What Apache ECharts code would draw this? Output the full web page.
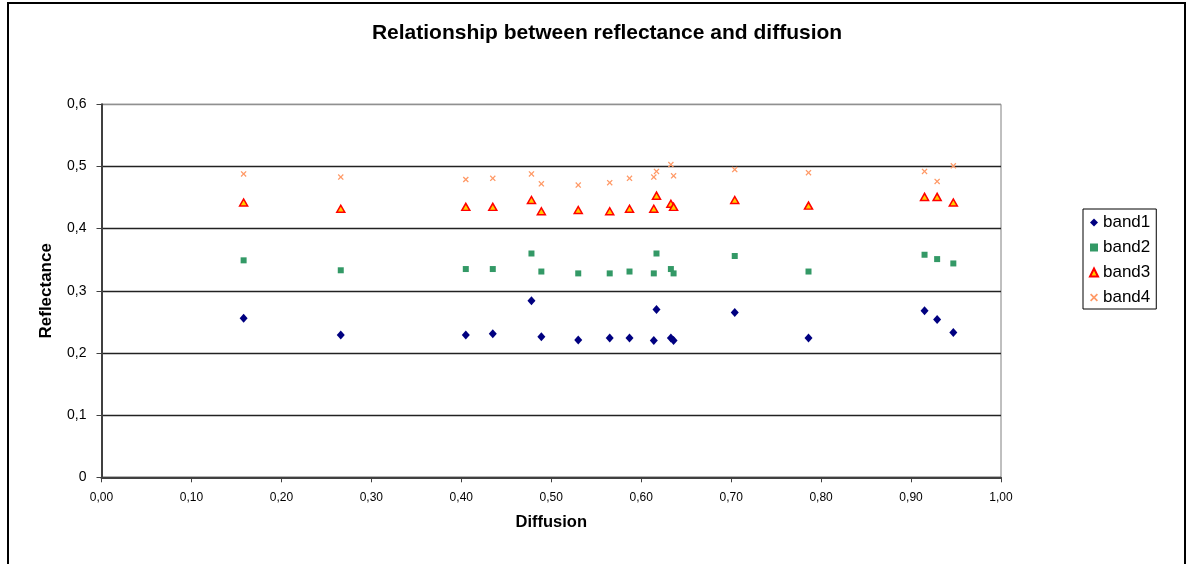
<!DOCTYPE html>
<html>
<head>
<meta charset="utf-8">
<script src="https://cdn.jsdelivr.net/npm/echarts@6/dist/echarts.min.js"></script>
<style>html,body{margin:0;padding:0;background:#fff}#c{width:1193px;height:564px}</style>
</head>
<body>
<div id="c"></div>
<script>
var diffusion = [0.158,0.266,0.405,0.435,0.478,0.489,0.530,0.565,0.587,0.614,0.617,0.633,0.636,0.704,0.786,0.915,0.929,0.947];
var band1 = [0.256,0.229,0.229,0.231,0.284,0.226,0.221,0.224,0.224,0.220,0.270,0.224,0.220,0.265,0.224,0.268,0.254,0.233];
var band2 = [0.349,0.333,0.335,0.335,0.360,0.331,0.328,0.328,0.331,0.328,0.360,0.335,0.328,0.356,0.331,0.358,0.351,0.344];
var band3 = [0.442,0.432,0.435,0.435,0.446,0.428,0.430,0.428,0.432,0.432,0.453,0.440,0.435,0.446,0.437,0.451,0.451,0.442];
var band4 = [0.488,0.483,0.479,0.481,0.488,0.472,0.470,0.474,0.481,0.483,0.492,0.503,0.485,0.495,0.490,0.492,0.476,0.501];
var seriesNames = ['band1','band2','band3','band4'];
var xTicks = {min:0, max:1, interval:0.1};
var yTicks = {min:0, max:0.6, interval:0.1};

function pairs(ys){ return diffusion.map(function(x,i){ return [x, ys[i]]; }); }
var xPath = 'path://M1.5,0L5,3.5L8.5,0L10,1.5L6.5,5L10,8.5L8.5,10L5,6.5L1.5,10L0,8.5L3.5,5L0,1.5Z';
var FONT = 'Liberation Sans, Arial, sans-serif';

var chart = echarts.init(document.getElementById('c'));
chart.setOption({
  animation:false,
  backgroundColor:'#ffffff',
  textStyle:{fontFamily:FONT},
  title:{text:'Relationship between reflectance and diffusion', left:602, top:18, textAlign:'center',
    textStyle:{fontSize:21, fontWeight:'bold', color:'#000', fontFamily:FONT}},
  legend:{
    orient:'vertical', left:1083, top:209,
    padding:[5,6,3,6], itemGap:8, itemWidth:8, itemHeight:8,
    borderColor:'#000', borderWidth:1, backgroundColor:'#fff', borderRadius:0,
    textStyle:{fontSize:17, color:'#000', fontFamily:FONT},
    data:seriesNames
  },
  grid:{left:101.5, right:192, top:104.3, bottom:86.7, show:true, borderColor:'#808080', borderWidth:1, containLabel:false},
  xAxis:{
    type:'value', min:xTicks.min, max:xTicks.max, interval:xTicks.interval,
    name:'Diffusion', nameLocation:'middle', nameGap:37,
    nameTextStyle:{fontSize:16.5, fontWeight:'bold', color:'#000'},
    axisLine:{show:true, onZero:false, lineStyle:{color:'#404040', width:2}},
    axisTick:{show:true, inside:false, length:5, lineStyle:{color:'#404040'}},
    axisLabel:{fontSize:12, color:'#000', margin:14, formatter:function(v){return v.toFixed(2).replace('.',',');}},
    splitLine:{show:false}
  },
  yAxis:{
    type:'value', min:yTicks.min, max:yTicks.max, interval:yTicks.interval,
    name:'Reflectance', nameLocation:'middle', nameGap:47, nameRotate:90,
    nameTextStyle:{fontSize:17, fontWeight:'bold', color:'#000'},
    axisLine:{show:true, lineStyle:{color:'#404040', width:2}},
    axisTick:{show:true, inside:false, length:5, lineStyle:{color:'#404040'}},
    axisLabel:{fontSize:14, color:'#000', margin:15, formatter:function(v){return v===0?'0':v.toFixed(1).replace('.',',');}},
    splitLine:{show:true, lineStyle:{color:['#222','#222','#222','#222','#222','#222','#909090'], width:1.3}}
  },
  graphic:[{type:'rect', shape:{x:8,y:3,width:1177,height:580}, style:{fill:'none', stroke:'#000', lineWidth:2}, silent:true, z:100}],
  series:[
    {name:'band1', type:'scatter', data:pairs(band1), symbol:'diamond', symbolSize:[8,9], itemStyle:{color:'#000080', opacity:1}},
    {name:'band2', type:'scatter', data:pairs(band2), symbol:'rect', symbolSize:6, itemStyle:{color:'#339966', opacity:1}},
    {name:'band3', type:'scatter', data:pairs(band3), symbol:'triangle', symbolSize:[8,7], itemStyle:{color:'#FFCC00', borderColor:'#FF0000', borderWidth:1.5, opacity:1}},
    {name:'band4', type:'scatter', data:pairs(band4), symbol:xPath, symbolSize:6, itemStyle:{color:'#FF9966', opacity:1}}
  ]
});
</script>
</body>
</html>
